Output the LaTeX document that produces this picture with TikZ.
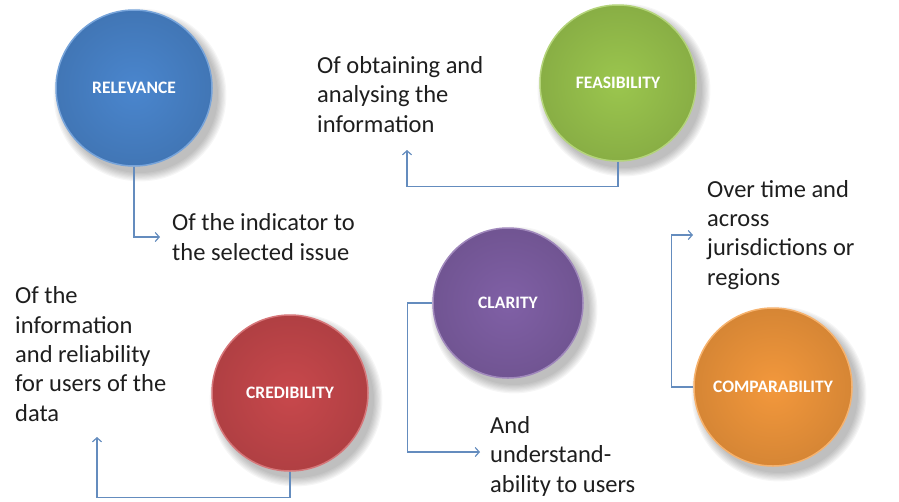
\documentclass[tikz,border=0pt]{standalone}
\usepackage{fontspec}
\setmainfont{Carlito}
\usetikzlibrary{arrows.meta}
\definecolor{cblue}{RGB}{74,134,206}
\definecolor{cgreen}{RGB}{155,198,78}
\definecolor{cred}{RGB}{200,72,76}
\definecolor{cpurple}{RGB}{128,96,166}
\definecolor{corange}{RGB}{243,152,60}
\definecolor{linkc}{RGB}{100,140,190}
\definecolor{txt}{RGB}{30,30,30}
\begin{document}
\begin{tikzpicture}[x=1pt,y=-1pt,
  ball/.style={circle, inner sep=0pt, text=white, font=\fontsize{17.5}{20}\selectfont\bfseries, draw=#1!75!white, line width=1.5pt, inner color=#1, outer color=#1!88!black},
  note/.style={anchor=base west, align=left, inner sep=0pt, font=\fontsize{24.5}{29.3}\selectfont, text=txt},
  link/.style={draw=linkc, line width=1.2pt, -{Straight Barb[length=4pt,width=9pt]}}]
\useasboundingbox (0,0) rectangle (899,501);
% soft shadows
\foreach \cx/\cy/\r in {134/88/78, 618/83/78, 290/393/78, 508/303/75, 773/387/79}{
  \foreach \k in {0,...,7}{
    \fill[black, opacity=0.035] (\cx+6,\cy+7) circle ({\r+\k*1.2});
  }
}
\node[ball=cblue, minimum size=156pt] (rel) at (134,88) {RELEVANCE};
\node[ball=cgreen, minimum size=156pt] (fea) at (618,83) {FEASIBILITY};
\node[ball=cred, minimum size=156pt] (cre) at (290,393) {CREDIBILITY};
\node[ball=cpurple, minimum size=150pt] (cla) at (508,303) {CLARITY};
\node[ball=corange, minimum size=158pt] (com) at (773,387) {COMPARABILITY};

% anchor base = baseline of the last line
\node[note] (trel) at (172,260) {Of the indicator to\\the selected issue};
\node[note] (tfea) at (317,132) {Of obtaining and\\analysing the\\information};
\node[note] (tcre) at (15,421) {Of the\\information\\and reliability\\for users of the\\data};
\node[note] (tcla) at (490,492) {And\\understand-\\ability to users};
\node[note] (tcom) at (707,285) {Over time and\\across\\jurisdictions or\\regions};

\coordinate (arel) at (160,237);
\coordinate (afea) at (407,150);
\coordinate (acre) at (97,437);
\coordinate (acla) at (480,452);
\coordinate (acom) at (693,235);

\draw[link] (rel.south) |- (arel);
\draw[link] (fea.south) -- ++(0,25) -| (afea);
\draw[link] (cre.south) -- ++(0,26) -| (acre);
\draw[link] (cla.west) -- ++(-25,0) |- (acla);
\draw[link] (com.west) -- ++(-22,0) |- (acom);
\end{tikzpicture}
\end{document}
